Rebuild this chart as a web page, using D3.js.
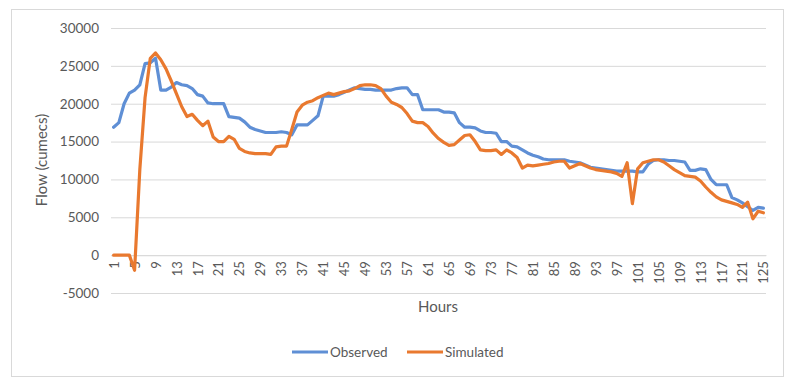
<!DOCTYPE html>
<html>
<head>
<meta charset="utf-8">
<script src="https://cdn.jsdelivr.net/npm/d3@7"></script>
<style>
  body { margin: 0; background: #fff; }
  text { font-family: Lato, "Open Sans", sans-serif; fill: #595959; }
</style>
</head>
<body>
<div id="holder"></div>
<script>
const w = 796;
const h = 385;

// DATA
const hours = d3.range(1, 126);
const observed = [
  16900, 17500, 20000, 21400, 21800, 22500, 25300, 25400, 26000, 21800,
  21800, 22200, 22800, 22500, 22400, 22000, 21200, 21000, 20100, 20000,
  20000, 20000, 18300, 18200, 18100, 17600, 16900, 16600, 16400, 16200,
  16200, 16200, 16300, 16200, 15900, 17200, 17200, 17200, 17800, 18400,
  21000, 21000, 21000, 21200, 21500, 21800, 22100, 22000, 21900, 21900,
  21800, 21800, 21800, 21800, 22000, 22100, 22100, 21200, 21200, 19200,
  19200, 19200, 19200, 18900, 18900, 18800, 17500, 16900, 16900, 16800,
  16400, 16200, 16200, 16100, 15000, 15000, 14400, 14300, 13900, 13500,
  13200, 13000, 12700, 12600, 12600, 12600, 12600, 12400, 12300, 12200,
  11900, 11600, 11500, 11400, 11300, 11200, 11100, 11100, 11100, 11100,
  11000, 11000, 12000, 12500, 12600, 12600, 12500, 12500, 12400, 12300,
  11200, 11200, 11400, 11300, 10000, 9300, 9300, 9300, 7600, 7300,
  6900, 6400, 5900, 6300, 6200
];
const simulated = [
  0, 0, 0, 0, -2000, 11300, 20800, 26000, 26700, 25800,
  24600, 23000, 21300, 19600, 18300, 18600, 17800, 17100, 17700, 15600,
  15000, 15000, 15700, 15300, 14100, 13700, 13500, 13400, 13400, 13400,
  13300, 14300, 14400, 14400, 16600, 18900, 19800, 20200, 20400, 20800,
  21100, 21400, 21200, 21400, 21600, 21700, 22000, 22400, 22500, 22500,
  22400, 22000, 21000, 20200, 19900, 19500, 18700, 17700, 17500, 17500,
  17000, 16100, 15400, 14900, 14500, 14600, 15200, 15800, 15900, 15000,
  13900, 13800, 13800, 13900, 13300, 13900, 13500, 12900, 11500, 11900,
  11800, 11900, 12000, 12100, 12300, 12400, 12400, 11500, 11800, 12100,
  11800, 11500, 11300, 11200, 11100, 11000, 10800, 10400, 12200, 6800,
  11400, 12200, 12400, 12600, 12600, 12300, 11800, 11300, 10900, 10500,
  10400, 10300, 9800, 9000, 8300, 7700, 7300, 7100, 6900, 6700,
  6300, 7000, 4800, 5800, 5600
];
const yTicks = [-5000, 0, 5000, 10000, 15000, 20000, 25000, 30000];
const xTicks = hours.filter(d => (d - 1) % 4 === 0);
const seriesNames = ["Observed", "Simulated"];
const colors = ["#5f8fd5", "#e9792f"];

const svg = d3.select("#holder")
  .append("svg")
  .attr("width", w)
  .attr("height", h);

// chart border
svg.append("rect")
  .attr("x", 11.5).attr("y", 9.5)
  .attr("width", 772).attr("height", 367)
  .attr("fill", "#fff")
  .attr("stroke", "#d9d9d9");

// SCALES
const xScale = d3.scaleLinear()
  .domain([0.5, 125.5])
  .range([111, 766]);

const yScale = d3.scaleLinear()
  .domain([-5000, 30000])
  .range([293, 28]);

// Y AXIS + GRID
const yAxis = d3.axisLeft(yScale)
  .tickValues(yTicks)
  .tickSize(-(766 - 111))
  .tickPadding(12)
  .tickFormat(d => String(d));

const gy = svg.append("g")
  .attr("transform", "translate(111,0)")
  .call(yAxis);
gy.select(".domain").remove();
gy.selectAll(".tick line").attr("stroke", "#d9d9d9");
gy.selectAll(".tick text")
  .style("font-size", "13.5px")
  .style("fill", "#595959");

// X AXIS (at zero)
const xAxis = d3.axisBottom(xScale)
  .tickValues(xTicks)
  .tickSize(0)
  .tickFormat(d => String(d));

const gx = svg.append("g")
  .attr("transform", "translate(0," + yScale(0) + ")")
  .call(xAxis);
gx.select(".domain").attr("stroke", "#d9d9d9");
gx.selectAll(".tick text")
  .style("font-size", "13px")
  .style("fill", "#595959")
  .attr("text-anchor", "end")
  .attr("transform", "rotate(-90)")
  .attr("x", -6)
  .attr("y", 0)
  .attr("dy", "0.35em");

// AXIS TITLES
svg.append("text")
  .attr("transform", "translate(47,160) rotate(-90)")
  .attr("text-anchor", "middle")
  .style("font-size", "15px")
  .text("Flow (cumecs)");

svg.append("text")
  .attr("x", 438)
  .attr("y", 312)
  .attr("text-anchor", "middle")
  .style("font-size", "15px")
  .text("Hours");

// LINES
const line = d3.line()
  .x((d, i) => xScale(hours[i]))
  .y(d => yScale(d));

[observed, simulated].forEach((s, k) => {
  svg.append("path")
    .datum(s)
    .attr("fill", "none")
    .attr("stroke", colors[k])
    .attr("stroke-width", 3.2)
    .attr("stroke-linejoin", "round")
    .attr("stroke-linecap", "round")
    .attr("d", line);
});

// LEGEND
const legendX = [292, 407];
seriesNames.forEach((name, k) => {
  svg.append("line")
    .attr("x1", legendX[k]).attr("x2", legendX[k] + 36)
    .attr("y1", 352).attr("y2", 352)
    .attr("stroke", colors[k])
    .attr("stroke-width", 3.2);
  svg.append("text")
    .attr("x", legendX[k] + 38)
    .attr("y", 352)
    .attr("dy", "0.35em")
    .style("font-size", "13.5px")
    .text(name);
});
</script>
</body>
</html>
